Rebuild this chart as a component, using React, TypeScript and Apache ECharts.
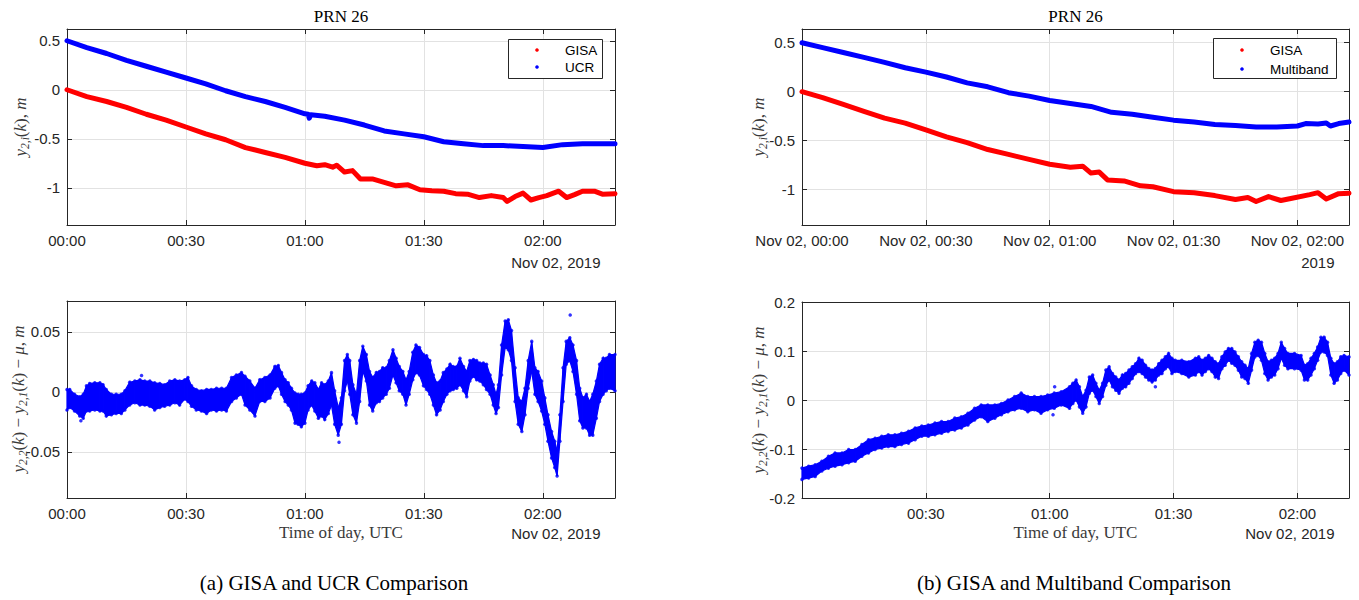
import React, { useEffect, useRef } from 'react';
import * as echarts from 'echarts';

// ---------- tick values ----------
const X_TICKS = [0, 30, 60, 90, 120];
const X_TICKS_BR = [30, 60, 90, 120];
const Y_TICKS_TOP = [-1, -0.5, 0, 0.5];
const Y_TICKS_BL = [-0.05, 0, 0.05];
const Y_TICKS_BR = [-0.2, -0.1, 0, 0.1, 0.2];

// ---------- top-left (GISA vs UCR), minutes after 00:00 ----------
const TL_GISA_T = [0, 5, 10, 15, 20, 25, 30, 35, 40, 45, 50, 55, 60, 63, 65, 67, 68, 70, 72, 74, 77, 80, 83, 86, 89, 92, 95, 98, 101, 104, 107, 110, 111, 113, 115, 117, 119, 121, 124, 126, 128, 130, 133, 135, 138.2];
const TL_GISA_V = [0, -0.07, -0.12, -0.18, -0.25, -0.31, -0.38, -0.45, -0.51, -0.59, -0.64, -0.69, -0.75, -0.775, -0.765, -0.79, -0.77, -0.84, -0.825, -0.91, -0.91, -0.945, -0.98, -0.97, -1.02, -1.03, -1.035, -1.06, -1.065, -1.10, -1.08, -1.10, -1.14, -1.09, -1.055, -1.125, -1.10, -1.08, -1.035, -1.10, -1.07, -1.035, -1.035, -1.065, -1.06];
const TL_UCR_T = [0, 5, 10, 15, 20, 25, 30, 35, 40, 45, 50, 55, 60, 60.8, 61.1, 61.5, 65, 70, 75, 80, 85, 90, 95, 100, 105, 110, 115, 120, 125, 130, 138.2];
const TL_UCR_V = [0.50, 0.43, 0.37, 0.30, 0.24, 0.18, 0.12, 0.06, -0.01, -0.07, -0.12, -0.18, -0.245, -0.25, -0.29, -0.255, -0.27, -0.31, -0.36, -0.42, -0.45, -0.48, -0.53, -0.55, -0.57, -0.57, -0.58, -0.59, -0.56, -0.55, -0.55];

// ---------- top-right (GISA vs Multiband) ----------
const TR_GISA_T = [0, 5, 10, 15, 20, 25, 30, 35, 40, 45, 50, 55, 60, 65, 68, 70, 72, 74, 78, 82, 85, 90, 95, 100, 105, 108, 110, 113, 116, 119, 123, 125, 127, 130, 132.5];
const TR_GISA_V = [0, -0.06, -0.13, -0.20, -0.27, -0.32, -0.39, -0.46, -0.52, -0.59, -0.64, -0.69, -0.74, -0.77, -0.76, -0.83, -0.82, -0.90, -0.91, -0.96, -0.97, -1.02, -1.03, -1.06, -1.10, -1.08, -1.12, -1.07, -1.11, -1.085, -1.05, -1.03, -1.095, -1.04, -1.035];
const TR_MB_T = [0, 5, 10, 15, 20, 25, 30, 35, 40, 45, 50, 55, 60, 65, 70, 75, 80, 85, 90, 95, 100, 105, 110, 115, 120, 122, 125, 127, 128, 130, 132.5];
const TR_MB_V = [0.50, 0.45, 0.40, 0.35, 0.30, 0.245, 0.20, 0.15, 0.09, 0.05, -0.01, -0.045, -0.09, -0.12, -0.15, -0.21, -0.23, -0.26, -0.29, -0.31, -0.335, -0.345, -0.36, -0.36, -0.35, -0.325, -0.33, -0.32, -0.35, -0.325, -0.31];

// ---------- bottom-left difference (upper / lower edge of the point cloud) ----------
const BL_T = [0, 0.7, 1.9, 3.2, 4.1, 4.9, 5.7, 7.0, 8.3, 9.1, 9.9, 11.2, 12.4, 13.7, 14.6, 15.8, 17.1, 18.4, 19.6, 20.9, 22.1, 23.4, 24.6, 25.9, 27.2, 28.4, 29.7, 30.5, 31.4, 32.6, 33.9, 35.2, 36.4, 37.7, 39.0, 40.2, 41.5, 42.7, 44.0,
  44.9, 46.1, 47.4, 48.6, 49.9, 51.2, 52.4, 53.3, 54.1, 55.0, 55.8, 56.6, 57.5, 58.3, 59.1, 60.0, 60.8, 61.7, 62.5, 63.4, 64.2, 65.0, 65.9, 66.7, 67.5, 68.4, 69.2, 70.0, 70.7, 71.3, 72.1, 73.0, 73.8, 74.6, 75.5, 76.3, 77.1, 78.0, 78.8, 79.6, 80.5, 81.3, 82.2, 83.0, 83.8, 84.7, 85.5, 86.3, 87.2, 88.0, 88.9,
  89.9, 90.7, 91.5, 92.4, 93.2, 94.1, 94.9, 95.8, 96.6, 97.4, 98.3, 99.1, 100.0, 100.8, 101.6, 102.5, 103.3, 104.1, 105.0, 105.8, 106.7, 107.5, 108.2, 108.8, 109.6, 110.5, 111.3, 112.1, 113.0, 113.8, 114.7, 115.5, 116.3, 117.2, 118.0, 118.8, 119.7, 120.5, 121.3, 122.2, 123.0, 123.6, 124.3, 125.1, 125.9, 126.8, 127.6, 128.5, 129.3, 130.1, 131.0, 131.8, 132.6, 133.5, 134.3, 135.2, 136.0, 136.8, 138.2];
const BL_HI = [0.002, 0.002, -0.002, -0.004, -0.002, 0.005, 0.007, 0.0075, 0.0075, 0.006, 0.002, -0.002, -0.002, -0.002, 0.001, 0.008, 0.009, 0.010, 0.009, 0.009, 0.0075, 0.007, 0.006, 0.009, 0.010, 0.009, 0.010, 0.012, 0.005, 0.002, 0.001, 0.002, 0.002, 0.003, 0.003, 0.003, 0.012, 0.014, 0.016,
  0.013, 0.009, 0.003, 0.010, 0.012, 0.014, 0.021, 0.022, 0.016, 0.010, 0.0075, 0.003, -0.001, -0.002, -0.002, -0.001, 0.005, 0.009, 0.0075, 0.002, 0.0075, 0.006, 0.009, 0.016, 0.001, -0.013, -0.005, 0.026, 0.031, 0.026, 0.006, -0.002, 0.026, 0.038, 0.031, 0.017, 0.012, 0.016, 0.017, 0.020, 0.020, 0.026, 0.035, 0.028, 0.021, 0.017, 0.010, 0.017, 0.033, 0.039, 0.037,
  0.031, 0.030, 0.026, 0.014, 0.0075, 0.009, 0.016, 0.019, 0.023, 0.021, 0.021, 0.028, 0.021, 0.017, 0.026, 0.027, 0.026, 0.024, 0.024, 0.023, 0.014, 0.006, -0.002, 0.006, 0.039, 0.059, 0.060, 0.051, 0.020, -0.005, -0.008, 0.003, 0.026, 0.042, 0.020, 0.017, 0.009, -0.005, -0.019, -0.033, -0.041, -0.049, -0.019, 0.020, 0.042, 0.045, 0.039, 0.026, 0.003, -0.005, -0.002, -0.008, -0.002, 0.009, 0.023, 0.028, 0.028, 0.031, 0.031];
const BL_LO = [-0.015, -0.013, -0.016, -0.020, -0.022, -0.016, -0.016, -0.015, -0.016, -0.016, -0.020, -0.019, -0.018, -0.018, -0.015, -0.011, -0.009, -0.011, -0.011, -0.012, -0.015, -0.013, -0.012, -0.011, -0.009, -0.011, -0.006, -0.008, -0.012, -0.015, -0.016, -0.018, -0.015, -0.016, -0.015, -0.016, -0.008, -0.005, -0.002,
  -0.011, -0.015, -0.020, -0.008, -0.008, -0.005, 0.003, 0.005, -0.002, -0.008, -0.011, -0.015, -0.026, -0.027, -0.029, -0.026, -0.015, -0.011, -0.016, -0.022, -0.020, -0.023, -0.018, -0.011, -0.027, -0.036, -0.027, 0.001, 0.009, -0.002, -0.019, -0.026, -0.008, 0.017, 0.009, -0.011, -0.016, -0.009, -0.008, -0.005, -0.002, 0.003, 0.014, 0.0075, 0.001, -0.002, -0.011, -0.002, 0.010, 0.016, 0.014,
  0.005, 0.002, -0.002, -0.011, -0.019, -0.015, -0.008, -0.002, 0.001, 0.002, 0.003, 0.006, 0.001, -0.004, 0.009, 0.013, 0.010, 0.009, 0.006, 0.002, -0.002, -0.011, -0.018, -0.013, 0.014, 0.037, 0.035, 0.026, -0.008, -0.027, -0.033, -0.019, 0.003, 0.017, -0.002, -0.008, -0.016, -0.027, -0.041, -0.055, -0.063, -0.070, -0.041, -0.008, 0.023, 0.026, 0.017, -0.002, -0.024, -0.030, -0.030, -0.036, -0.036, -0.022, -0.008, -0.002, 0.001, 0.003, 0.001];
const BL_OUT = [[3.5, -0.024], [18.8, 0.0136], [68.6, -0.042], [126.9, 0.064]];

// ---------- bottom-right difference ----------
const BR_T = [0, 1.6, 3.2, 4.8, 6.4, 8.0, 9.7, 11.3, 12.9, 14.5, 16.1, 17.7, 19.3, 20.9, 22.5, 24.1, 25.8, 27.4, 29.0, 30.6, 32.2, 33.8, 35.4, 37.0, 38.6, 40.2, 41.8, 43.4, 45.0, 46.7, 48.3, 49.9, 51.5, 53.1, 54.7, 56.3, 57.9, 59.5, 61.1, 62.8,
  64.8, 65.6, 66.4, 67.2, 68.0, 68.8, 69.6, 70.4, 71.2, 72.0, 72.8, 73.6, 74.4, 75.2, 76.0, 76.8, 77.6, 78.4, 79.2, 80.0, 80.8, 81.6, 82.4, 83.2, 84.0, 84.8, 85.6, 86.4, 87.2, 88.0, 88.8, 89.6, 90.4, 92.0, 93.7, 95.3, 96.1, 96.9, 97.7, 98.5, 99.3, 100.1, 100.9, 101.7, 102.5, 103.3, 104.1, 104.9, 105.7, 106.5, 107.3, 108.1, 108.9, 109.7, 110.5, 111.3, 112.1, 112.9, 113.7, 114.5, 115.3, 116.1, 116.9, 117.7, 119.3, 120.9, 121.7, 122.5, 123.3, 124.1, 124.9, 125.7, 126.5, 127.3, 128.1, 128.9, 129.7, 130.5, 131.3, 132.5];
const BR_HI = [-0.139, -0.135, -0.132, -0.125, -0.115, -0.108, -0.108, -0.101, -0.101, -0.091, -0.081, -0.078, -0.074, -0.071, -0.071, -0.068, -0.064, -0.057, -0.053, -0.051, -0.047, -0.044, -0.044, -0.037, -0.034, -0.027, -0.017, -0.010, -0.010, -0.010, -0.007, 0, 0.007, 0.014, 0.007, 0.007, 0.007, 0.010, 0.014, 0.017,
  0.027, 0.034, 0.041, 0.027, 0.007, 0.020, 0.047, 0.051, 0.034, 0.020, 0.034, 0.061, 0.068, 0.054, 0.047, 0.041, 0.051, 0.054, 0.061, 0.068, 0.074, 0.085, 0.081, 0.071, 0.064, 0.061, 0.064, 0.074, 0.081, 0.088, 0.095, 0.085, 0.081, 0.081, 0.078, 0.085, 0.088, 0.081, 0.085, 0.091, 0.085, 0.078, 0.074, 0.088, 0.098, 0.105, 0.105, 0.098, 0.088, 0.078, 0.071, 0.064, 0.095, 0.118, 0.122, 0.118, 0.095, 0.078, 0.081, 0.085, 0.095, 0.118, 0.105, 0.095, 0.095, 0.091, 0.071, 0.074, 0.085, 0.095, 0.108, 0.128, 0.128, 0.118, 0.085, 0.074, 0.078, 0.088, 0.091, 0.088];
const BR_LO = [-0.162, -0.159, -0.156, -0.145, -0.139, -0.135, -0.132, -0.128, -0.125, -0.115, -0.108, -0.101, -0.098, -0.095, -0.095, -0.091, -0.088, -0.081, -0.074, -0.074, -0.071, -0.068, -0.064, -0.061, -0.057, -0.051, -0.041, -0.034, -0.044, -0.037, -0.030, -0.024, -0.020, -0.017, -0.024, -0.020, -0.027, -0.020, -0.017, -0.010,
  -0.017, -0.007, 0, -0.014, -0.027, -0.014, 0.014, 0.020, 0.007, -0.007, 0.007, 0.030, 0.041, 0.027, 0.020, 0.014, 0.024, 0.027, 0.034, 0.044, 0.054, 0.058, 0.054, 0.047, 0.041, 0.037, 0.041, 0.051, 0.054, 0.064, 0.068, 0.054, 0.058, 0.054, 0.047, 0.051, 0.058, 0.051, 0.058, 0.064, 0.058, 0.047, 0.044, 0.064, 0.071, 0.081, 0.075, 0.071, 0.061, 0.047, 0.044, 0.034, 0.061, 0.088, 0.091, 0.081, 0.054, 0.041, 0.047, 0.051, 0.064, 0.085, 0.071, 0.064, 0.064, 0.061, 0.041, 0.041, 0.051, 0.064, 0.081, 0.098, 0.098, 0.091, 0.051, 0.034, 0.041, 0.054, 0.061, 0.051];
const BR_OUT = [[60.8, -0.030], [61.2, 0.027], [85.6, 0.027]];

// ---------- texts ----------
const TITLE = 'PRN 26';
const X_NAME = 'Time of day, UTC';
const DATE_LABEL = 'Nov 02, 2019';
const CAPTION_A = '(a) GISA and UCR Comparison';
const CAPTION_B = '(b) GISA and Multiband Comparison';

const AX = '#262626';
const GRIDC = '#e2e2e2';
const RED = '#ff0000';
const BLUE = '#0000ff';
const SANS = '"Liberation Sans", Arial, Helvetica, sans-serif';
const SERIF = '"Liberation Serif", "Times New Roman", serif';

const GRIDS = [
  { left: 67, top: 29, width: 548, height: 196 },
  { left: 802, top: 29, width: 547, height: 196 },
  { left: 67, top: 301, width: 548, height: 197 },
  { left: 802, top: 302, width: 547, height: 196 },
];

function hhmm(v: number) {
  const h = Math.floor(v / 60);
  const m = Math.round(v - h * 60);
  return String(h).padStart(2, '0') + ':' + String(m).padStart(2, '0');
}
function yFmt(v: number) {
  return v === 0 ? '0' : String(v);
}

function xAxes(gi: number, max: number, ticks: number[], fmt: (v: number) => string) {
  return [
    {
      type: 'value', gridIndex: gi, position: 'bottom', min: 0, max,
      axisLine: { show: true, onZero: false, lineStyle: { color: AX, width: 1 } },
      axisTick: { show: true, inside: true, length: 5, customValues: ticks, lineStyle: { color: AX } },
      axisLabel: { show: true, customValues: ticks, formatter: fmt, color: AX, fontFamily: SANS, fontSize: 15, margin: 8 },
      splitLine: { show: true, lineStyle: { color: GRIDC, width: 1 } },
    },
    {
      type: 'value', gridIndex: gi, position: 'top', min: 0, max,
      axisLine: { show: true, onZero: false, lineStyle: { color: AX, width: 1 } },
      axisTick: { show: true, inside: true, length: 5, customValues: ticks, lineStyle: { color: AX } },
      axisLabel: { show: false },
      splitLine: { show: false },
    },
  ];
}
function yAxes(gi: number, min: number, max: number, ticks: number[]) {
  return [
    {
      type: 'value', gridIndex: gi, position: 'left', min, max,
      axisLine: { show: true, onZero: false, lineStyle: { color: AX, width: 1 } },
      axisTick: { show: true, inside: true, length: 5, customValues: ticks, lineStyle: { color: AX } },
      axisLabel: { show: true, customValues: ticks, formatter: yFmt, color: AX, fontFamily: SANS, fontSize: 15, margin: 7 },
      splitLine: { show: true, lineStyle: { color: GRIDC, width: 1 } },
    },
    {
      type: 'value', gridIndex: gi, position: 'right', min, max,
      axisLine: { show: true, onZero: false, lineStyle: { color: AX, width: 1 } },
      axisTick: { show: true, inside: true, length: 5, customValues: ticks, lineStyle: { color: AX } },
      axisLabel: { show: false },
      splitLine: { show: false },
    },
  ];
}

function zip(t: number[], v: number[]) {
  return t.map((x, i) => [x, v[i]]);
}

function lineSeries(name: string, axis: number, t: number[], v: number[], color: string) {
  return {
    name, type: 'line', xAxisIndex: axis, yAxisIndex: axis,
    data: zip(t, v), showSymbol: false, symbol: 'none',
    lineStyle: { color, width: 5, join: 'round', cap: 'round' },
    itemStyle: { color }, z: 3,
  };
}

function bandSeries(axis: number, T: number[], HI: number[], LO: number[]) {
  return {
    type: 'custom', xAxisIndex: axis, yAxisIndex: axis,
    data: T.map((t, i) => [t, LO[i], HI[i]]),
    encode: { x: 0, y: [1, 2] },
    z: 3,
    renderItem: (params: any, api: any) => {
      const i = params.dataIndex;
      if (i >= T.length - 1) return { type: 'group', children: [] };
      const a = api.coord([T[i], HI[i]]);
      const b = api.coord([T[i + 1], HI[i + 1]]);
      const c = api.coord([T[i + 1], LO[i + 1]]);
      const d = api.coord([T[i], LO[i]]);
      return {
        type: 'polygon',
        shape: { points: [a, b, c, d] },
        style: { fill: BLUE, stroke: BLUE, lineWidth: 1.2 },
      };
    },
  };
}

function edgeSeries(axis: number, T: number[], HI: number[], LO: number[], OUT: number[][]) {
  const pts: number[][] = [];
  T.forEach((t, i) => { pts.push([t, HI[i]]); pts.push([t, LO[i]]); });
  OUT.forEach((p) => pts.push(p));
  return {
    type: 'scatter', xAxisIndex: axis, yAxisIndex: axis, data: pts,
    symbol: 'circle', symbolSize: 3.5, itemStyle: { color: BLUE }, z: 4,
  };
}

const RICH = {
  i: { fontFamily: SERIF, fontStyle: 'italic', fontSize: 17, lineHeight: 22, fill: '#3a3a3a', color: '#3a3a3a' },
  n: { fontFamily: SERIF, fontSize: 17, lineHeight: 22, fill: '#3a3a3a', color: '#3a3a3a' },
  s: { fontFamily: SERIF, fontStyle: 'italic', fontSize: 11.5, lineHeight: 12, verticalAlign: 'bottom', fill: '#3a3a3a', color: '#3a3a3a' },
};
const YLABEL_TOP = '{i|y}{s|2,i}{n|(}{i|k}{n|), }{i|m}';
const YLABEL_BOT = '{i|y}{s|2,2}{n|(}{i|k}{n|) − }{i|y}{s|2,1}{n|(}{i|k}{n|) − }{i|μ}{n|, }{i|m}';

function text(x: number, y: number, str: string, font: string, size: number, align: string, extra: any = {}) {
  return {
    type: 'text', x, y, z: 50,
    style: {
      text: str, fontFamily: font, fontSize: size, fill: extra.fill || '#000',
      align, textAlign: align, verticalAlign: 'middle', textVerticalAlign: 'middle',
    },
  };
}
function ylabel(x: number, y: number, str: string) {
  return {
    type: 'text', x, y, rotation: Math.PI / 2, z: 50,
    style: { text: str, rich: RICH, align: 'center', textAlign: 'center', verticalAlign: 'middle', textVerticalAlign: 'middle' },
  };
}
function legend(x: number, y: number, w: number, h: number, dotX: number, textX: number, names: string[], colors: string[], ys: number[]) {
  const els: any[] = [
    { type: 'rect', z: 60, shape: { x: x + 0.5, y: y + 0.5, width: w, height: h }, style: { fill: '#ffffff', stroke: AX, lineWidth: 1 } },
  ];
  names.forEach((n, i) => {
    els.push({ type: 'circle', z: 61, shape: { cx: dotX, cy: ys[i], r: 1.8 }, style: { fill: colors[i] } });
    els.push({ ...text(textX, ys[i], n, SANS, 13.5, 'left'), z: 61 });
  });
  return els;
}

export default function App() {
  const ref = useRef<HTMLDivElement>(null);
  useEffect(() => {
    if (!ref.current) return;
    const chart = echarts.init(ref.current, null, { renderer: 'svg' });
    const fmtPlain = (v: number) => hhmm(v);
    const fmtDate = (v: number) => 'Nov 02, ' + hhmm(v);
    const option: any = {
      animation: false,
      backgroundColor: '#ffffff',
      grid: GRIDS.map((g) => ({ ...g, containLabel: false })),
      xAxis: [
        ...xAxes(0, 138.2, X_TICKS, fmtPlain),
        ...xAxes(1, 132.5, X_TICKS, fmtDate),
        ...xAxes(2, 138.2, X_TICKS, fmtPlain),
        ...xAxes(3, 132.5, X_TICKS_BR, fmtPlain),
      ],
      yAxis: [
        ...yAxes(0, -1.38, 0.62, Y_TICKS_TOP),
        ...yAxes(1, -1.36, 0.64, Y_TICKS_TOP),
        ...yAxes(2, -0.0883, 0.0756, Y_TICKS_BL),
        ...yAxes(3, -0.2, 0.2, Y_TICKS_BR),
      ],
      series: [
        lineSeries('GISA', 0, TL_GISA_T, TL_GISA_V, RED),
        lineSeries('UCR', 0, TL_UCR_T, TL_UCR_V, BLUE),
        lineSeries('GISA', 2, TR_GISA_T, TR_GISA_V, RED),
        lineSeries('Multiband', 2, TR_MB_T, TR_MB_V, BLUE),
        bandSeries(4, BL_T, BL_HI, BL_LO),
        edgeSeries(4, BL_T, BL_HI, BL_LO, BL_OUT),
        bandSeries(6, BR_T, BR_HI, BR_LO),
        edgeSeries(6, BR_T, BR_HI, BR_LO, BR_OUT),
      ],
      graphic: {
        elements: [
          text(341, 16, TITLE, SERIF, 17, 'center'),
          text(1075.5, 16, TITLE, SERIF, 17, 'center'),
          text(600.5, 262, DATE_LABEL, SANS, 15, 'right', { fill: AX }),
          text(1334.5, 262, '2019', SANS, 15, 'right', { fill: AX }),
          text(600.5, 533, DATE_LABEL, SANS, 15, 'right', { fill: AX }),
          text(1334.5, 533, DATE_LABEL, SANS, 15, 'right', { fill: AX }),
          text(341, 532, X_NAME, SERIF, 17, 'center', { fill: '#3a3a3a' }),
          text(1075.5, 532, X_NAME, SERIF, 17, 'center', { fill: '#3a3a3a' }),
          ylabel(20, 127, YLABEL_TOP),
          ylabel(758, 127, YLABEL_TOP),
          ylabel(18, 399, YLABEL_BOT),
          ylabel(758, 400, YLABEL_BOT),
          text(334, 583, CAPTION_A, SERIF, 21, 'center'),
          text(1074, 583, CAPTION_B, SERIF, 21, 'center'),
          ...legend(508, 39, 94, 39, 537, 565, ['GISA', 'UCR'], [RED, BLUE], [50, 67]),
          ...legend(1213, 38, 123, 40, 1242, 1270, ['GISA', 'Multiband'], [RED, BLUE], [50, 69]),
        ],
      },
    };
    chart.setOption(option);
    return () => chart.dispose();
  }, []);
  return <div ref={ref} style={{ position: 'fixed', left: 0, top: 0, width: 1359, height: 600, background: '#fff' }} />;
}
